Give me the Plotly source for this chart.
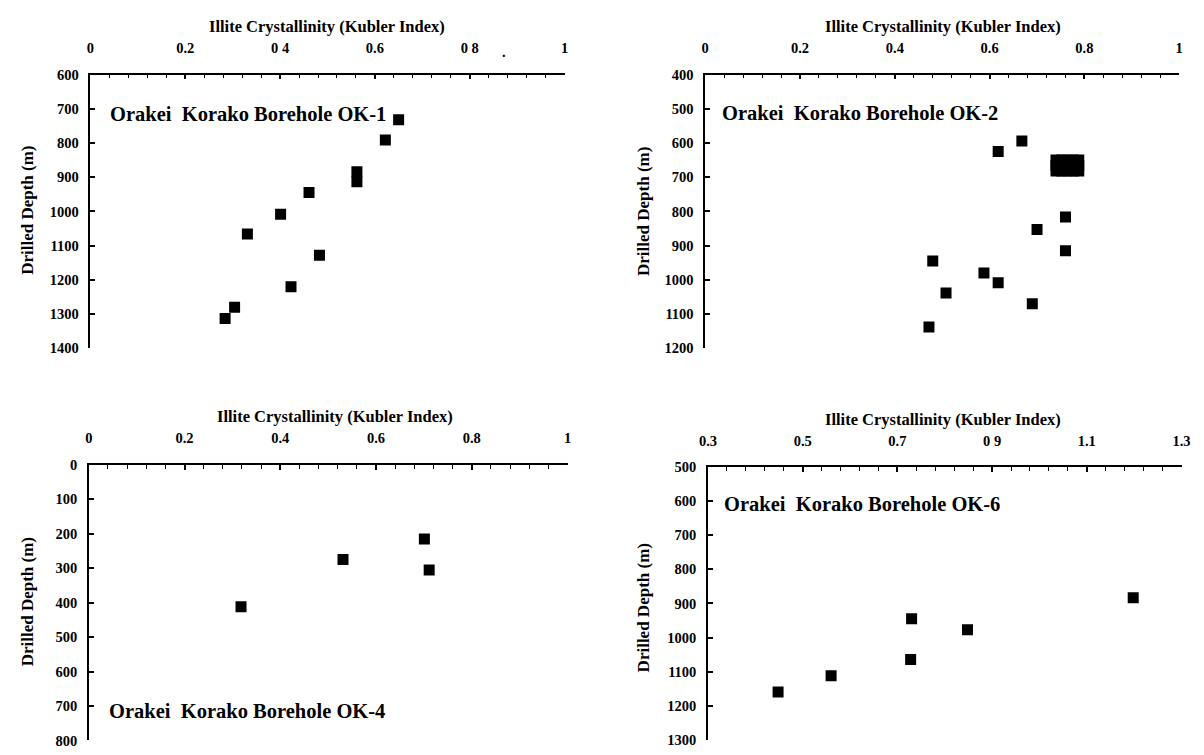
import plotly.graph_objects as go

# ---------------- data ----------------
ok1_ki = [0.650, 0.622, 0.562, 0.562, 0.461, 0.401, 0.331, 0.483, 0.423, 0.304, 0.284]
ok1_depth = [732, 791, 884, 913, 945, 1008, 1066, 1128, 1220, 1280, 1313]

ok2_ki = [0.668, 0.618, 0.760, 0.700, 0.760, 0.480, 0.588, 0.618, 0.508, 0.690, 0.472]
ok2_depth = [594, 625, 816, 853, 915, 945, 980, 1008, 1038, 1070, 1138]

# cluster of overlapping samples that prints as one solid block near 0.76 / 666 m
ok2_cluster_ki = [0.740, 0.752, 0.764, 0.776, 0.788,
                  0.740, 0.752, 0.764, 0.776, 0.788,
                  0.740, 0.752, 0.764, 0.776, 0.788]
ok2_cluster_depth = [650, 650, 650, 650, 650,
                     666, 666, 666, 666, 666,
                     682, 682, 682, 682, 682]

ok4_ki = [0.701, 0.531, 0.711, 0.318]
ok4_depth = [215, 275, 305, 412]

ok6_ki = [1.198, 0.730, 0.848, 0.728, 0.560, 0.448]
ok6_depth = [883, 945, 977, 1064, 1112, 1160]

ticks_a_vals = [0, 0.2, 0.4, 0.6, 0.8, 1]
ticks_ok1_text = ["0", "0.2", "0 4", "0.6", "0 8", "1"]
ticks_a_text = ["0", "0.2", "0.4", "0.6", "0.8", "1"]
ticks_b_vals = [0.3, 0.5, 0.7, 0.9, 1.1, 1.3]
ticks_b_text = ["0.3", "0.5", "0.7", "0 9", "1.1", "1.3"]

x_title = "Illite Crystallinity (Kubler Index)"
y_title = "Drilled Depth (m)"
panel_labels = ["Orakei  Korako Borehole OK-1", "Orakei  Korako Borehole OK-2",
                "Orakei  Korako Borehole OK-4", "Orakei  Korako Borehole OK-6"]

# ---------------- layout helpers ----------------
W, H = 1204, 755
FONT = "Liberation Serif"


def px(x):
    return x / W


def py(y):
    return 1 - y / H


fig = go.Figure()
series = [(ok1_ki, ok1_depth, ""), (ok2_ki, ok2_depth, "2"),
          (ok2_cluster_ki, ok2_cluster_depth, "2"),
          (ok4_ki, ok4_depth, "3"), (ok6_ki, ok6_depth, "4")]
for xs, ys, sfx in series:
    fig.add_trace(go.Scatter(
        x=xs, y=ys, mode="markers", xaxis="x" + sfx, yaxis="y" + sfx,
        marker=dict(symbol="square", size=11, color="black", line=dict(width=0)),
        showlegend=False, hoverinfo="skip"))

tickfont = dict(family=FONT, size=14.5, color="black", weight="bold")


def xaxis(domain, rng, vals, texts, tick0, anchor):
    return dict(domain=domain, range=rng, side="top", anchor=anchor,
                showline=True, linecolor="black", linewidth=1.5,
                ticks="inside", ticklen=5, tickwidth=1.5, tickcolor="black",
                tickmode="array", tickvals=vals, ticktext=texts,
                tickfont=tickfont, ticklabelstandoff=14,
                showgrid=False, zeroline=False, mirror=False,
                minor=dict(ticks="inside", ticklen=4, tickwidth=1, tickcolor="black",
                           tick0=tick0, dtick=0.04, showgrid=False))


def yaxis(domain, rng, anchor):
    return dict(domain=domain, range=rng, anchor=anchor,
                showline=True, linecolor="black", linewidth=1.5,
                ticks="inside", ticklen=5, tickwidth=1.5, tickcolor="black",
                dtick=100, tick0=0, tickfont=tickfont, ticklabelstandoff=7,
                showgrid=False, zeroline=False, mirror=False)


top_dom = [py(347.7), py(68)]
bot_l_dom = [py(748.3), py(466.7)]
bot_r_dom = [py(747.7), py(469)]

fig.update_layout(
    width=W, height=H, margin=dict(l=0, r=0, t=0, b=0),
    paper_bgcolor="white", plot_bgcolor="white",
    xaxis=xaxis([px(82.7), px(564)], [0, 1], ticks_a_vals, ticks_ok1_text, 0, "y"),
    yaxis=yaxis(top_dom, [1400, 600], "x"),
    xaxis2=xaxis([px(706.8), px(1188)], [0, 1], ticks_a_vals, ticks_a_text, 0, "y2"),
    yaxis2=yaxis(top_dom, [1200, 400], "x2"),
    xaxis3=xaxis([px(81), px(567)], [0, 1], ticks_a_vals, ticks_a_text, 0, "y3"),
    yaxis3=yaxis(bot_l_dom, [800, 0], "x3"),
    xaxis4=xaxis([px(709.6), px(1190.3)], [0.3, 1.3], ticks_b_vals, ticks_b_text, 0.3, "y4"),
    yaxis4=yaxis(bot_r_dom, [1300, 500], "x4"),
)

ann = []
title_font = dict(family=FONT, size=16.5, color="black", weight="bold")
ytitle_font = dict(family=FONT, size=17, color="black", weight="bold")
label_font = dict(family=FONT, size=20.5, color="black", weight="bold")

for (cx, cy) in [(323, 19), (948, 19), (331, 417), (948, 420)]:
    ann.append(dict(text=x_title, x=px(cx), y=py(cy), xref="paper", yref="paper",
                    xanchor="center", yanchor="middle", showarrow=False, font=title_font))
for (cx, cy) in [(18.5, 207), (644, 208), (18.5, 607), (644, 613)]:
    ann.append(dict(text=y_title, x=px(cx), y=py(cy), xref="paper", yref="paper",
                    xanchor="center", yanchor="middle", textangle=-90,
                    showarrow=False, font=ytitle_font))
for (cx, cy), t in zip([(101, 108), (722, 107), (99, 718), (724, 507)], panel_labels):
    ann.append(dict(text=t, x=px(cx), y=py(cy), xref="paper", yref="paper",
                    xanchor="left", yanchor="middle", showarrow=False, font=label_font))
# stray scanned dot among OK-1 tick labels
ann.append(dict(text=".", x=px(503), y=py(45), xref="paper", yref="paper",
                xanchor="center", yanchor="middle", showarrow=False, font=tickfont))

fig.update_layout(annotations=ann)
fig.write_html("out.html", config={"displayModeBar": False},
               post_script="document.body.style.margin='0';")
